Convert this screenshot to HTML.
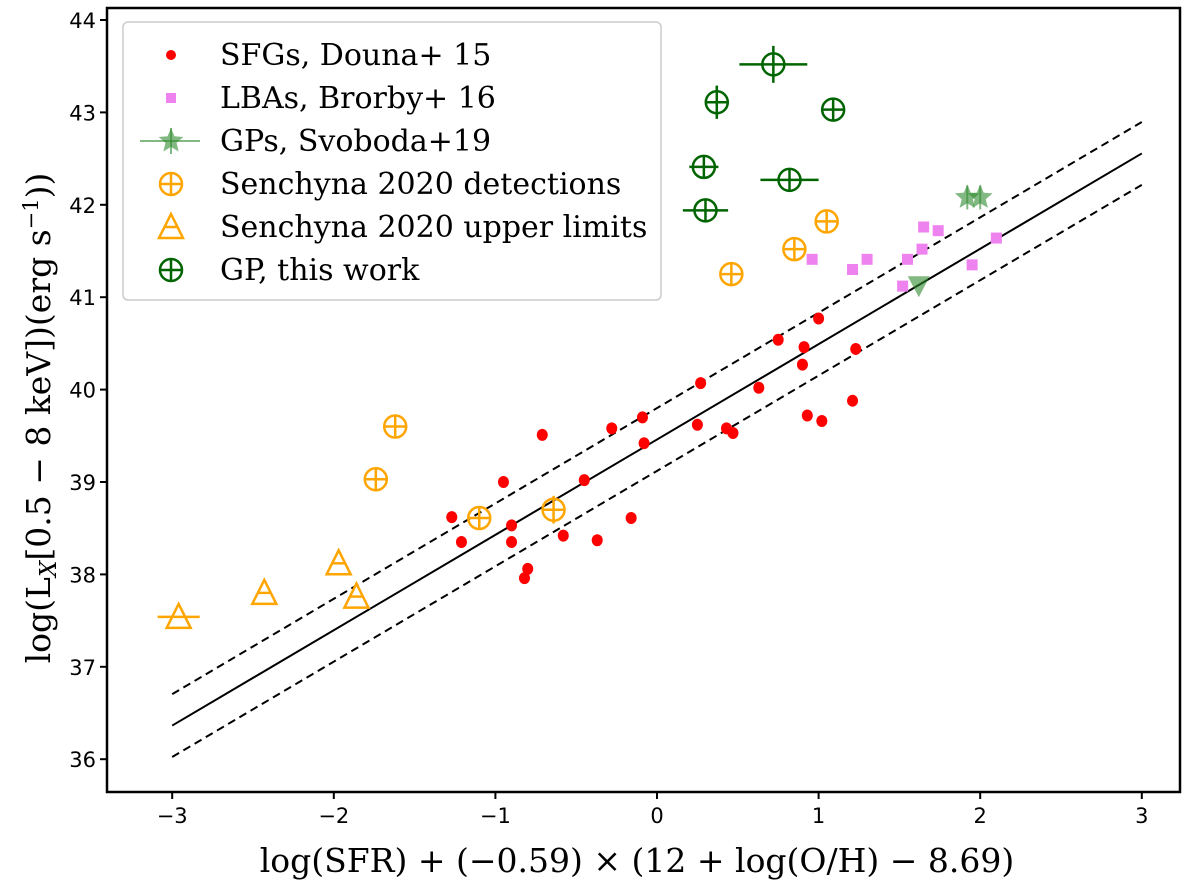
<!DOCTYPE html>
<html><head><meta charset="utf-8"><style>
body{margin:0;background:#fff}
svg{display:block}
.tk{font-family:"DejaVu Sans","Liberation Sans",sans-serif;font-size:21px}
.lg{font-family:"DejaVu Serif","Liberation Serif",serif;font-size:30px}
.ax{font-family:"DejaVu Serif","Liberation Serif",serif;font-size:33px}
</style></head><body>
<svg id="chart" width="1200" height="889" xmlns="http://www.w3.org/2000/svg">
<g id="plot"></g>
</svg>
<script>
const xTicks=[-3,-2,-1,0,1,2,3];
const yTicks=[36,37,38,39,40,41,42,43,44];
const sfgX=[-0.71,-0.28,-0.09,-0.08,-0.95,-1.27,-1.21,-0.90,-0.90,-0.45,-0.58,-0.37,-0.16,-0.80,-0.82,0.25,0.43,0.47,0.27,0.63,0.75,0.91,0.90,1.00,0.93,1.02,1.23,1.21];
const sfgY=[39.51,39.58,39.70,39.42,39.00,38.62,38.35,38.53,38.35,39.02,38.42,38.37,38.61,38.06,37.96,39.62,39.58,39.53,40.07,40.02,40.54,40.46,40.27,40.77,39.72,39.66,40.44,39.88];
const lbaX=[1.65,1.74,1.64,1.55,1.30,1.21,0.96,1.52,1.95,2.10];
const lbaY=[41.76,41.72,41.52,41.41,41.41,41.30,41.41,41.12,41.35,41.64];
const gpsX=[1.92,2.00];
const gpsY=[42.08,42.08];
const gpsLimX=[1.62];
const gpsLimY=[41.13];
const senDetX=[1.05,0.85,0.46,-1.62,-1.74,-1.10,-0.64];
const senDetY=[41.82,41.52,41.25,39.60,39.03,38.61,38.70];
const senDetYerr=[0.05,0.05,0.05,0.03,0.05,0.12,0.15];
const senUlX=[-2.96,-2.43,-1.97,-1.86];
const senUlY=[37.54,37.80,38.12,37.76];
const senUlXerr=[0.13,0,0,0];
const gpX=[0.72,0.37,1.09,0.29,0.82,0.30];
const gpY=[43.52,43.11,43.03,42.41,42.27,41.94];
const gpXerr=[0.21,0.03,0.02,0.09,0.18,0.14];
const gpYerr=[0.2,0.18,0.1,0.03,0.03,0.03];
const fitSlope=1.032, fitIntercept=39.46, fitScatter=0.34;

const L=107,R=1180,T=8,B=792;
const X=v=>657+v*161.6, Y=v=>20+(44-v)*92.4;
const NS='http://www.w3.org/2000/svg';
const g=document.getElementById('plot');
function mk(tag,at,parent){const e=document.createElementNS(NS,tag);for(const k in at)e.setAttribute(k,at[k]);(parent||g).appendChild(e);return e;}

[[0,'none','fit-line'],[fitScatter,'8,5','fit-upper-dashed'],[-fitScatter,'8,5','fit-lower-dashed']].forEach(([o,d,n])=>{
 const l=mk('line',{x1:X(-3),y1:Y(fitIntercept-3*fitSlope+o),x2:X(3),y2:Y(fitIntercept+3*fitSlope+o),stroke:'#000','stroke-width':2,'stroke-dasharray':d});
 
 
});
sfgX.forEach((x,i)=>{const c=mk('ellipse',{cx:X(x),cy:Y(sfgY[i]),rx:5.5,ry:6,fill:'#ff0000'});
 
 });
lbaX.forEach((x,i)=>{const c=mk('rect',{x:X(x)-5.5,y:Y(lbaY[i])-5.5,width:11,height:11,fill:'#ee82ee'});
 
 });
function star(cx,cy,r,parent){let p='';for(let k=0;k<10;k++){const a=-Math.PI/2+k*Math.PI/5,rr=k%2?r*0.45:r;p+=(cx+rr*Math.cos(a))+','+(cy+rr*Math.sin(a))+' ';}return mk('polygon',{points:p,fill:'#2e8b2e','fill-opacity':0.6},parent);}
gpsX.forEach((x,i)=>{const s=star(X(x),Y(gpsY[i]),13);
 
 
 mk('line',{x1:X(x),y1:Y(gpsY[i])-12,x2:X(x),y2:Y(gpsY[i])+12,stroke:'#2e8b2e','stroke-opacity':0.6,'stroke-width':2});});
gpsLimX.forEach((x,i)=>{const cx=X(x),cy=Y(gpsLimY[i]);const t=mk('polygon',{points:`${cx-11},${cy-9} ${cx+11},${cy-9} ${cx},${cy+12}`,fill:'#2e8b2e','fill-opacity':0.6});
 
 });
function circPlus(cx,cy,r,col,name,xe,ye,parent){
 const gg=mk('g',{},parent);
 
 
 mk('circle',{cx,cy,r,fill:'none',stroke:col,'stroke-width':2.5},gg);
 mk('line',{x1:cx-Math.max(r,xe),y1:cy,x2:cx+Math.max(r,xe),y2:cy,stroke:col,'stroke-width':2.5},gg);
 mk('line',{x1:cx,y1:cy-Math.max(r,ye),x2:cx,y2:cy+Math.max(r,ye),stroke:col,'stroke-width':2.5},gg);
}
function tri(cx,cy,col,name,xe,parent){
 const gg=mk('g',{},parent);
 
 
 mk('polygon',{points:`${cx},${cy-13} ${cx-12},${cy+11} ${cx+12},${cy+11}`,fill:'none',stroke:col,'stroke-width':2.5},gg);
 mk('line',{x1:cx-Math.max(7,xe),y1:cy,x2:cx+Math.max(7,xe),y2:cy,stroke:col,'stroke-width':2.5},gg);
}
senDetX.forEach((x,i)=>circPlus(X(x),Y(senDetY[i]),11,'#ffa500','senchyna-detection',0,senDetYerr[i]*92.4));
senUlX.forEach((x,i)=>tri(X(x),Y(senUlY[i]),'#ffa500','senchyna-upper-limit',senUlXerr[i]*161.6));
gpX.forEach((x,i)=>circPlus(X(x),Y(gpY[i]),11,'#006400','gp-this-work',gpXerr[i]*161.6,gpYerr[i]*92.4));

const fr=mk('rect',{x:L,y:T,width:R-L,height:B-T,fill:'none',stroke:'#000','stroke-width':2.5});


xTicks.forEach(t=>{mk('line',{x1:X(t),y1:B,x2:X(t),y2:B+7,stroke:'#000','stroke-width':2});
 const tx=mk('text',{x:X(t),y:B+31,'text-anchor':'middle',class:'tk'});tx.textContent=(t<0?'\u2212'+(-t):t);
 
 });
yTicks.forEach(t=>{mk('line',{x1:L-7,y1:Y(t),x2:L,y2:Y(t),stroke:'#000','stroke-width':2});
 const tx=mk('text',{x:L-11,y:Y(t)+8,'text-anchor':'end',class:'tk'});tx.textContent=t;
 
 });

const lg=mk('g',{});


mk('rect',{x:123,y:22,width:538,height:278,rx:5,fill:'#fff','fill-opacity':0.85,stroke:'#ccc','stroke-width':1.5},lg);
const labels=['SFGs, Douna+ 15','LBAs, Brorby+ 16','GPs, Svoboda+19','Senchyna 2020 detections','Senchyna 2020 upper limits','GP, this work'];
labels.forEach((s,i)=>{const y=55+i*43;const t=mk('text',{x:220,y:y+10,class:'lg'},lg);t.textContent=s;
 
 });
mk('circle',{cx:171,cy:55,r:5,fill:'#ff0000'},lg);
mk('rect',{x:166,y:93,width:10,height:10,fill:'#ee82ee'},lg);
mk('line',{x1:140,y1:141,x2:200,y2:141,stroke:'#2e8b2e','stroke-opacity':0.6,'stroke-width':2},lg);
mk('line',{x1:171,y1:128,x2:171,y2:154,stroke:'#2e8b2e','stroke-opacity':0.6,'stroke-width':2},lg);
star(171,141,13,lg);
circPlus(171,184,11,'#ffa500','legend-senchyna-detection',0,0,lg);
tri(171,227,'#ffa500','legend-senchyna-upper',0,lg);
circPlus(171,270,11,'#006400','legend-gp-this-work',0,0,lg);

const xt=mk('text',{x:637,y:872,'text-anchor':'middle',class:'ax'});
xt.textContent='log(SFR) + (\u22120.59) \u00d7 (12 + log(O/H) \u2212 8.69)';


const yt=mk('text',{x:0,y:0,'text-anchor':'middle',class:'ax',transform:'translate(50,418) rotate(-90)'});
yt.innerHTML='log(L<tspan font-style="italic" font-size="23" dy="6">X</tspan><tspan dy="-6">[0.5 \u2212 8 keV])(erg s</tspan><tspan font-size="21" dy="-12">\u22121</tspan><tspan dy="12">))</tspan>';


</script>
</body></html>
